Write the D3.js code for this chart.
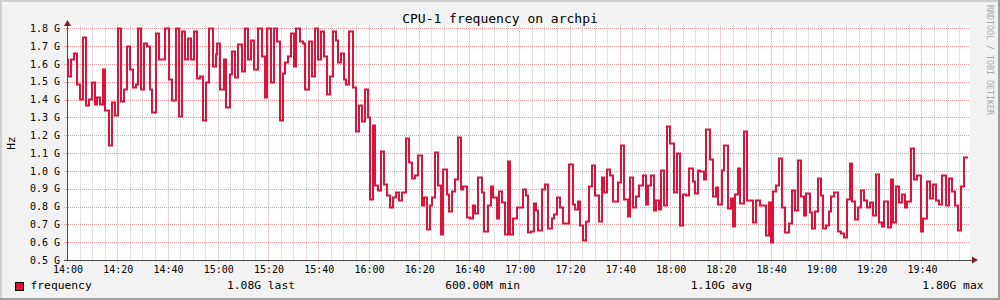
<!DOCTYPE html>
<html>
<head>
<meta charset="utf-8">
<script src="https://cdn.jsdelivr.net/npm/d3@7"></script>
<style>
  body { margin: 0; background: #f2f2f2; }
  text { font-family: "DejaVu Sans Mono", monospace; }
</style>
</head>
<body>
<div id="chart"></div>
<script>
// minutes after 14:00 where each step starts, and its value in GHz
var startMin = [0,0.4,1.6,2.9,4.0,5.3,6.4,7.6,8.7,10,11.1,12,13.3,14.3,15.3,16.7,18,19.1,20.3,21.6,
  22.7,23.7,25.1,26.3,27.3,28.4,29.6,30.7,31.7,32.9,34,35.3,36.7,38.9,40.4,41.6,43.3,44.7,45.7,47.1,
  48.3,49.3,50.7,51.7,52.9,54.3,55.3,56.7,58,59.1,59.7,60.9,62.3,63.3,64.7,65.7,66.9,68,69.6,70.7,
  72,73.3,74.3,76,77.6,78.7,79.7,81.3,82.3,83.6,84.7,86,86.9,88,89.2,90.5,91.3,92.7,94.0,94.9,
  96.2,97.3,98.6,100,101,102.2,103.5,104.6,105.7,106.9,107.9,109,110.2,111.2,112.3,113.9,115,116.2,117.2,118.5,
  119.6,120.7,121.9,122.4,123.8,124.9,126.2,127.4,128.6,129.8,130.9,132.2,133.5,134.7,136.1,137.4,138.5,139.8,141.1,142.2,
  143.1,144.4,145.4,146.4,147.5,148.8,149.7,151.1,152.1,153.3,154.4,155.7,156.6,157.7,159,160.4,161.4,162.4,163.7,165,
  166.1,167.4,168.6,169.6,171,171.9,173,174.3,175.4,176.3,177.6,178.9,181.3,182.6,183.6,184.6,185.7,186.6,187.6,188.9,
  190.2,191.5,192.9,193.9,195,196.2,197.5,199.9,201.2,202.2,203.2,204.2,205.2,206.5,207.9,208.9,210.1,211.5,212.8,213.8,
  214.9,216.2,217.4,219.2,220.5,221.8,223.1,224.2,225.1,226.5,227.8,229.1,230.2,231.1,232.4,233.4,234.4,235.5,236.4,237.5,
  238.8,240.1,241.5,242.8,244.1,245.3,246.4,247.7,249,249.7,251,251.9,253.3,254.3,255.7,257,258.3,259.2,260.6,261.6,
  263,264.3,265.2,265.9,266.9,268,269.3,270.7,273,274.2,275.6,278,279.3,280.2,281,282.2,283.3,284.6,285.9,287.2,
  288.3,289.5,290.8,291.9,293.2,294.2,295.5,296.5,297.5,298.8,299.9,300.9,302.2,303.2,304.1,305.4,306.8,307.8,309.2,310.5,
  311.5,312.2,313.5,314.7,315.8,317.1,318.2,319.4,320.7,321.8,323.1,324.4,325.3,326.7,328,328.8,329.7,331.1,332.4,333.3,
  334.4,336,337,338.4,339.7,340.7,342.1,343.4,344.7,345.7,347,348.3,349.6,351,352,353.4,354.7,355.9,356.9];
var ghz = [1.63,1.535,1.63,1.66,1.485,1.405,1.75,1.367,1.405,1.50,1.376,1.414,1.376,1.572,1.343,1.147,1.386,1.315,1.80,1.39,
  1.46,1.70,1.572,1.47,1.49,1.80,1.46,1.718,1.70,1.46,1.33,1.774,1.628,1.80,1.516,1.395,1.80,1.31,1.783,1.628,
  1.746,1.628,1.783,1.522,1.535,1.287,1.50,1.80,1.59,1.656,1.718,1.46,1.628,1.358,1.544,1.675,1.526,1.712,1.56,1.80,
  1.628,1.735,1.572,1.80,1.647,1.414,1.80,1.50,1.80,1.727,1.287,1.55,1.61,1.647,1.774,1.59,1.80,1.727,1.718,1.46,
  1.727,1.535,1.80,1.628,1.787,1.647,1.43,1.535,1.783,1.735,1.613,1.662,1.516,1.49,1.783,1.47,1.222,1.367,1.28,1.46,
  1.30,0.845,1.255,0.923,0.891,1.112,0.929,0.863,0.80,0.854,0.882,0.835,0.882,1.184,1.05,0.96,0.975,1.091,0.807,0.854,
  0.673,0.807,0.854,1.106,0.923,0.645,1.009,0.869,0.774,0.888,0.957,1.19,0.90,0.916,0.742,0.733,0.811,0.766,0.966,0.882,
  0.662,0.807,0.914,0.854,0.737,0.888,0.826,0.645,1.056,0.645,0.733,0.80,0.90,0.863,0.655,0.662,0.822,0.783,0.667,0.90,
  0.929,0.682,0.738,0.757,0.854,0.80,0.71,1.04,0.817,0.785,0.832,0.696,0.615,0.718,0.916,1.031,0.863,0.72,0.966,0.882,
  1.009,0.979,0.832,0.938,1.143,0.845,0.746,0.966,0.80,0.86,0.923,0.975,0.817,0.919,0.979,0.783,0.835,0.785,1.003,0.811,
  1.25,1.158,0.882,1.102,0.696,0.873,0.867,1.016,0.942,0.878,1.003,0.998,0.957,1.233,1.065,0.86,0.91,0.817,1.003,1.147,
  0.794,0.85,0.69,0.873,1.018,0.82,1.222,0.835,0.714,0.839,0.807,0.643,0.826,0.60,0.888,0.923,1.074,0.80,0.657,0.71,
  0.895,0.783,1.063,0.858,0.755,0.878,0.77,0.677,0.774,0.962,0.863,0.682,0.696,0.776,0.86,0.882,0.662,0.649,0.627,0.845,
  1.046,0.83,0.729,0.80,0.894,0.835,0.80,0.826,0.751,0.985,0.714,0.69,0.832,0.686,0.953,0.714,0.914,0.826,0.873,0.80,
  0.83,1.13,0.957,0.979,0.664,0.733,0.944,0.849,0.929,0.839,0.813,0.979,0.807,0.962,0.886,0.807,0.671,0.914,1.08];
var endMin = 358.7;

var yTicks = [0.5,0.6,0.7,0.8,0.9,1.0,1.1,1.2,1.3,1.4,1.5,1.6,1.7,1.8];
var legendNames = ["last", "min", "avg", "max"];
var legendValues = [1.08e9, 600e6, 1.10e9, 1.80e9];

var W = 1000, H = 300;
var t0 = new Date(2020, 0, 1, 14, 0);
function tm(m) { return new Date(t0.getTime() + m * 60000); }

var svg = d3.select('#chart').append('svg')
  .attr('width', W).attr('height', H);

// background + shading border
svg.append('rect').attr('width', W).attr('height', H).attr('fill', '#f2f2f2');
svg.append('rect').attr('x', 0).attr('y', 0).attr('width', W).attr('height', 2).attr('fill', '#cfcfcf');
svg.append('rect').attr('x', 0).attr('y', 0).attr('width', 2).attr('height', H).attr('fill', '#cfcfcf');
svg.append('rect').attr('x', 0).attr('y', H - 2).attr('width', W).attr('height', 2).attr('fill', '#9e9e9e');
svg.append('rect').attr('x', W - 2).attr('y', 0).attr('width', 2).attr('height', H).attr('fill', '#9e9e9e');

var x = d3.scaleTime().domain([tm(0), tm(360)]).range([67, 971.7]);
var y = d3.scaleLinear().domain([0.5, 1.8]).range([260, 28.3]);
var right = 970;

// canvas
svg.append('rect').attr('x', 67).attr('y', y(1.8) - 3)
  .attr('width', right - 67).attr('height', y(0.5) - y(1.8) + 3).attr('fill', '#fff');

// vertical grid
var minor = x.ticks(d3.timeMinute.every(5)).filter(function(d){ return x(d) <= right; });
var major = x.ticks(d3.timeMinute.every(20)).filter(function(d){ return x(d) <= right; });
svg.append('g').selectAll('line').data(minor.filter(function(d){ return d.getMinutes() % 20 != 0; }))
  .enter().append('line')
  .attr('x1', function(d){ return Math.round(x(d)) + 0.5; })
  .attr('x2', function(d){ return Math.round(x(d)) + 0.5; })
  .attr('y1', y(1.8) - 3).attr('y2', y(0.5))
  .attr('stroke', '#c6c6c6').attr('stroke-dasharray', '1,1');
svg.append('g').selectAll('line').data(major)
  .enter().append('line')
  .attr('x1', function(d){ return Math.round(x(d)) + 0.5; })
  .attr('x2', function(d){ return Math.round(x(d)) + 0.5; })
  .attr('y1', y(1.8) - 3).attr('y2', y(0.5) + 3)
  .attr('stroke', '#ee9a9a').attr('stroke-dasharray', '1,1');

// horizontal grid
svg.append('g').selectAll('line').data(yTicks)
  .enter().append('line')
  .attr('x1', 64).attr('x2', right)
  .attr('y1', function(d){ return Math.round(y(d)) + 0.5; })
  .attr('y2', function(d){ return Math.round(y(d)) + 0.5; })
  .attr('stroke', '#ee9a9a').attr('stroke-dasharray', '1,1');

// y labels
svg.append('g').selectAll('text').data(yTicks)
  .enter().append('text')
  .attr('x', 60).attr('y', function(d){ return y(d) + 3.7; })
  .attr('text-anchor', 'end').attr('font-size', '10px').attr('fill', '#000')
  .text(function(d){ return d3.format('.1f')(d) + ' G'; });

// x labels
svg.append('g').selectAll('text').data(major)
  .enter().append('text')
  .attr('x', function(d){ return x(d) + 1; }).attr('y', 272.5)
  .attr('text-anchor', 'middle').attr('font-size', '10px').attr('fill', '#000')
  .text(d3.timeFormat('%H:%M'));

// data line
var pts = startMin.map(function(m, i){ return { t: tm(m), v: ghz[i] }; });
pts.push({ t: tm(endMin), v: ghz[ghz.length - 1] });
var line = d3.line()
  .x(function(d){ return Math.round(x(d.t)); })
  .y(function(d){ return Math.round(y(d.v)) + 0.5; })
  .curve(d3.curveStepAfter);
svg.append('path')
  .attr('d', line(pts))
  .attr('fill', 'none')
  .attr('stroke', '#dc143c')
  .attr('stroke-width', 2);

// axes
svg.append('line').attr('x1', 67.5).attr('x2', 67.5).attr('y1', y(0.5)).attr('y2', 23)
  .attr('stroke', '#4a4a4a');
svg.append('line').attr('x1', 64).attr('x2', 973).attr('y1', y(0.5) + 0.5).attr('y2', y(0.5) + 0.5)
  .attr('stroke', '#4a4a4a');
svg.append('path').attr('d', 'M64,26L71,26L67.5,20Z').attr('fill', '#801f1f');
svg.append('path').attr('d', 'M972,256.5L972,263.5L978,260Z').attr('fill', '#801f1f');

// title
svg.append('text').attr('x', 500).attr('y', 22.5).attr('text-anchor', 'middle')
  .attr('font-size', '13px').attr('fill', '#000').text('CPU-1 frequency on archpi');

// y axis label
svg.append('text').attr('transform', 'translate(15,143) rotate(-90)')
  .attr('text-anchor', 'middle').attr('font-size', '11px').attr('fill', '#000').text('Hz');

// watermark
svg.append('text').attr('transform', 'translate(987,5) rotate(90)')
  .attr('font-size', '8.3px').attr('fill', '#a9a9a9').text('RRDTOOL / TOBI OETIKER');

// legend
svg.append('rect').attr('x', 15.5).attr('y', 282.5).attr('width', 8).attr('height', 8)
  .attr('fill', '#dc143c').attr('stroke', '#000');
svg.append('text').attr('x', 30.5).attr('y', 289).attr('font-size', '11.3px').text('frequency');

function si(v) {
  if (v >= 1e9) return (v / 1e9).toFixed(2) + 'G';
  return (v / 1e6).toFixed(2) + 'M';
}
var legendEnd = [295, 520, 752, 983.5];
svg.append('g').selectAll('text').data(legendNames)
  .enter().append('text')
  .attr('x', function(d, i){ return legendEnd[i]; }).attr('y', 289)
  .attr('text-anchor', 'end').attr('font-size', '11.3px')
  .text(function(d, i){ return si(legendValues[i]) + ' ' + d; });
</script>
</body>
</html>
